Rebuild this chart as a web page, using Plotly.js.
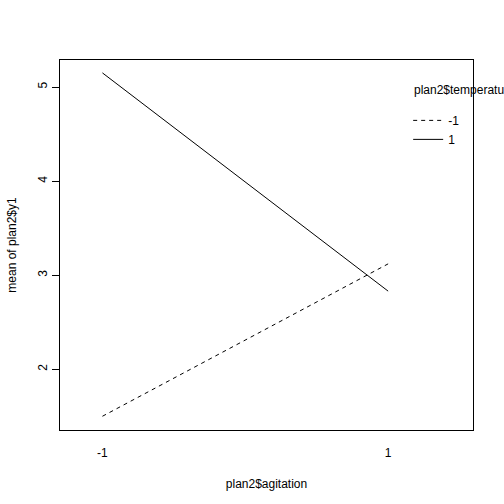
<!DOCTYPE html>
<html>
<head>
<meta charset="utf-8">
<script src="https://cdn.plot.ly/plotly-3.0.1.min.js"></script>
<style>
  html, body { margin: 0; padding: 0; background: #fff; }
  #chart { width: 504px; height: 504px; }
</style>
</head>
<body>
<div id="chart"></div>
<script>
// levels of plan2$agitation on the x axis
const agitation = [-1, 1]
// mean of plan2$y1 for each temperature level
const tempLevels = ['-1', '1']
const meanTempLow = [1.50, 3.12]
const meanTempHigh = [5.15, 2.83]

const font = { family: 'Liberation Sans, Arial, sans-serif', size: 12, color: '#000' }

const traces = [{
  x: agitation,
  y: meanTempLow,
  name: tempLevels[0],
  type: 'scatter',
  mode: 'lines',
  line: { color: '#000', width: 1, dash: '4px,4px' }
}, {
  x: agitation,
  y: meanTempHigh,
  name: tempLevels[1],
  type: 'scatter',
  mode: 'lines',
  line: { color: '#000', width: 1 }
}]

const layout = {
  width: 504,
  height: 504,
  margin: { l: 59.5, r: 31, t: 59.5, b: 74, pad: 0, autoexpand: false },
  paper_bgcolor: '#fff',
  plot_bgcolor: '#fff',
  font: font,
  showlegend: true,
  legend: {
    x: 0.843,
    y: 0.876,
    xanchor: 'left',
    yanchor: 'top',
    bgcolor: 'rgba(0,0,0,0)',
    font: font
  },
  // legend heading, as R writes it above the keys
  annotations: [{
    text: 'plan2$temperature',
    xref: 'paper',
    yref: 'paper',
    x: 0.8525,
    y: 0.918,
    xanchor: 'left',
    yanchor: 'middle',
    showarrow: false,
    font: font
  }],
  xaxis: {
    range: [-1.297, 1.594],
    tickvals: agitation,
    ticktext: agitation.map(String),
    ticks: '',
    ticklabelstandoff: 12,
    showgrid: false,
    zeroline: false,
    showline: true,
    mirror: true,
    linecolor: '#000',
    linewidth: 1,
    title: { text: 'plan2$agitation', font: font, standoff: 20 }
  },
  yaxis: {
    range: [1.354, 5.287],
    tickvals: [2, 3, 4, 5],
    ticks: 'outside',
    ticklen: 7,
    tickcolor: '#000',
    tickangle: -90,
    showgrid: false,
    zeroline: false,
    showline: true,
    mirror: true,
    linecolor: '#000',
    linewidth: 1,
    title: { text: 'mean of plan2$y1', font: font, standoff: 17 }
  }
}

Plotly.newPlot('chart', traces, layout, { staticPlot: true })
</script>
</body>
</html>
